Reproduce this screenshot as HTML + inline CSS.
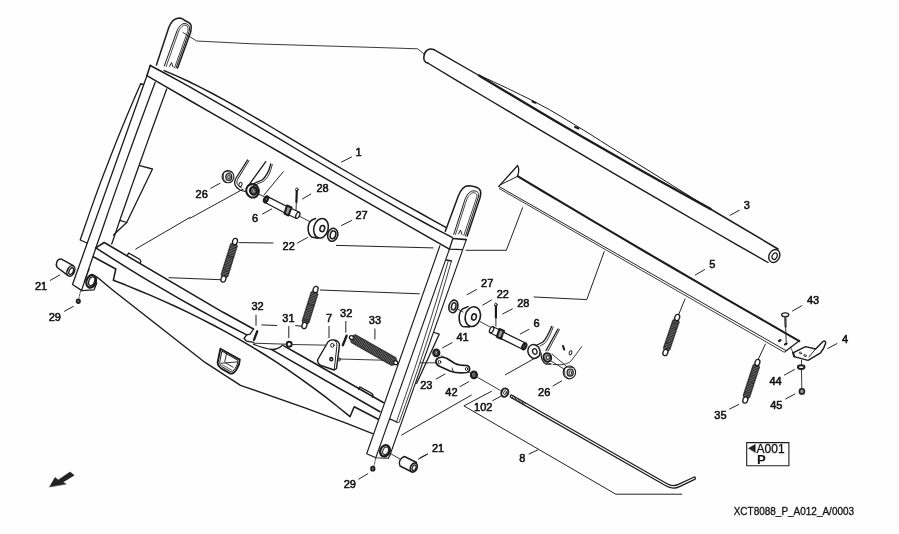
<!DOCTYPE html>
<html><head><meta charset="utf-8"><title>XCT8088_P_A012_A/0003</title>
<style>
html,body{margin:0;padding:0;background:#fff;}
svg{display:block;font-family:"Liberation Sans",sans-serif;}
text{filter:grayscale(1);}
</style></head><body>
<svg width="899" height="534" viewBox="0 0 899 534" stroke="#1c1c1c" stroke-linejoin="round" stroke-linecap="round" fill="none">
<rect x="0" y="0" width="899" height="534" fill="#fefefe" stroke="none"/>
<path d="M140.8,83.6 L134.6,97.8 L128.5,112.0 L122.6,126.3 L116.8,140.5 L111.2,154.7 L105.7,168.9 L100.3,183.1 L95.1,197.3 L90.0,211.6 L85.1,225.8 L80.2,240.0 L87.0,243.0" stroke-width="1.3" fill="none" />
<path d="M141.0,84.0 L143.5,84.5" stroke-width="1.3" fill="none" />
<path d="M146.9,75.8 L72.5,284.5 L81.9,290.6 L94.0,289.9 L96.8,283.0" stroke-width="1.3" fill="none" />
<path d="M155.2,82.2 L149.2,98.2 L143.3,114.3 L137.4,130.3 L131.6,146.3 L125.8,162.4 L120.1,178.4 L114.4,194.4 L108.8,210.4 L103.3,226.5 L97.7,242.5 L92.3,258.5 L86.8,274.6 L81.5,290.6" stroke-width="1.3" fill="none" />
<path d="M166.7,89.0 L161.5,103.1 L156.4,117.2 L151.3,131.3 L146.2,145.4 L141.2,159.5 L136.2,173.5 L131.2,187.6 L126.3,201.7 L121.4,215.8 L116.6,229.9 L111.7,244.0" stroke-width="1.3" fill="none" />
<path d="M139.7,165.7 L152.5,169.0 L126.7,222.5 L113.5,235.0" stroke-width="1.3" fill="none" />
<path d="M119.9,220.4 L126.7,222.5" stroke-width="1.3" fill="none" />
<path d="M156.4,65 L168.8,27.5 C171,21.5 175,18 179.4,17.9 C182,17.9 183.6,19.6 185.2,20.8 C189,22.2 191.6,24 191.2,27.2 L190.7,32 L177.6,68" stroke-width="1.4949999999999999" fill="none" />
<path d="M164.3,66 L176.6,32 C178.5,27 180.8,24 184,23.6 C187,23.4 189.4,25 189.5,27.8 L189.2,31.5 L176,68" stroke-width="1.0" fill="none" />
<path d="M166.2,66.5 L178.2,32.6 C180,28 182,25.7 184.3,25.3 C186.5,25.2 187.9,26.3 188,28.3 L187.8,31.2 L174.6,67.5" stroke-width="0.8" fill="none" />
<path d="M169.5,66.5 L171.5,62.5 L173.0,67.0" stroke-width="0.9720000000000001" fill="none" />
<path d="M183.0,32.5 L196.7,41.0 L250.0,43.7 L380.0,47.6 L417.6,48.8 L423.9,53.9" stroke-width="0.8640000000000001" fill="none" />
<ellipse cx="91.2" cy="281.3" rx="4.7" ry="6.5" transform="rotate(20 91.2 281.3)" stroke-width="2.21" fill="none"/>
<ellipse cx="91.7" cy="281.3" rx="2.8" ry="4.6" transform="rotate(20 91.7 281.3)" stroke-width="1.3" fill="none"/>
<path d="M89.3,269.0 L84.5,281.0" stroke-width="0.9720000000000001" fill="none" />
<path d="M164.2,70.6 L176.5,75.8 L188.7,81.5 L201.0,87.6 L213.3,94.0 L225.5,100.7 L237.8,107.5 L250.1,114.6 L262.3,121.7 L274.6,129.0 L286.9,136.3 L299.1,143.6 L311.4,150.9 L323.6,158.1 L335.9,165.3 L348.2,172.5 L360.4,179.5 L372.7,186.5 L385.0,193.5 L397.2,200.4 L409.5,207.2 L421.8,214.0 L434.0,220.8 L446.3,227.7" stroke-width="1.4300000000000002" fill="none" />
<path d="M150.3,65.5 L163.4,72.5 L176.6,79.6 L189.7,86.9 L202.8,94.3 L215.9,101.8 L229.1,109.4 L242.2,117.0 L255.3,124.7 L268.4,132.4 L281.6,140.2 L294.7,148.0 L307.8,155.8 L320.9,163.5 L334.1,171.3 L347.2,179.0 L360.3,186.6 L373.4,194.2 L386.6,201.7 L399.7,209.1 L412.8,216.4 L425.9,223.5 L439.1,230.6 L452.2,237.4" stroke-width="1.4300000000000002" fill="none" />
<path d="M146.9,75.6 L167.1,87.3 L187.2,99.0 L207.4,110.6 L227.6,122.2 L247.7,133.8 L267.9,145.4 L288.1,157.0 L308.2,168.6 L328.4,180.2 L348.6,191.7 L368.7,203.2 L388.9,214.7 L409.1,226.2 L429.2,237.7 L449.4,249.2" stroke-width="1.4949999999999999" fill="none" />
<path d="M150.3,65.2 L146.9,75.8" stroke-width="1.56" fill="none" />
<path d="M95.8,247.8 L104.2,242.5 L223.1,312.3 L253.5,329.0" stroke-width="1.56" fill="none" />
<path d="M253.5,329.0 L250.1,334.1 L246.7,334.9 L244.0,338.5 L246.7,341.2 L253.5,342.4" stroke-width="1.3" fill="none" />
<path d="M95.8,247.8 L112.6,258.6 L129.3,269.1 L146.1,279.3 L162.9,289.2 L179.6,298.9 L196.4,308.3 L213.2,317.4 L229.9,326.3 L246.7,334.9" stroke-width="1.56" fill="none" />
<path d="M93.3,256.7 L115.8,269.0 L113.3,280.3 L125.8,285.1 L138.2,290.2 L150.7,295.4 L163.1,300.9 L175.6,306.5 L188.0,312.4 L200.5,318.6 L213.0,325.0 L225.4,331.6 L237.9,338.6 L250.3,345.9 L262.8,353.5 L275.3,361.4 L287.7,369.7 L300.2,378.3 L312.6,387.3 L325.1,396.7 L337.5,406.5 L350.0,416.7 L354.2,406.7 L378.3,419.2" stroke-width="1.56" fill="none" />
<path d="M96.7,276.7 L112.6,290.0 L205.4,362.7 L240.5,385.3 L305.0,407.9 L346.7,423.3 L372.6,433.6" stroke-width="1.4300000000000002" fill="none" />
<path d="M127.4,255.4 L128.6,253 L139.6,259.2 C140.8,260.2 141,261.6 140.3,263" stroke-width="1.3" fill="none" />
<path d="M283.8,345.9 L300.0,355.0 L383.3,402.5" stroke-width="1.56" fill="none" />
<path d="M271.7,349.6 L380.0,411.7" stroke-width="1.56" fill="none" />
<path d="M253.5,344.2 C260,347 266,348.8 272,349.5 C277,349.6 280,347.5 282.8,345" stroke-width="1.3" fill="none" />
<path d="M254.2,343.2 L286.5,344.2" stroke-width="0.9" fill="none" />
<path d="M358.6,389.3 L359.7,386.9 L371.6,393.3 C373,394.3 373.2,395.8 372.3,397.2" stroke-width="1.3" fill="none" />
<path d="M220.4,348.7 L239.8,359.6 C239.8,362.5 238.5,366.5 236.5,369.4 C234.5,372.5 232.5,373.9 230.3,373.6 L221.9,368.9 C219,367 217.8,365.5 217.6,362.5 Z" stroke-width="1.885" fill="none" />
<path d="M222.2,351.3 L237.9,360.4 C237.8,363 236.8,366 235.2,368.4 C233.6,370.8 232,371.7 230.3,371.4 L222.8,367.2 C220.5,365.6 219.7,364.5 219.7,362.3 Z" stroke-width="1.0" fill="none" />
<path d="M226.6,353.3 L224.7,361.9" stroke-width="0.9" fill="none" />
<path d="M221.0,363.3 L237.0,361.9" stroke-width="0.9" fill="none" />
<path d="M225.8,363.0 L233.1,367.2" stroke-width="0.9" fill="none" />
<path d="M222.5,365.0 L231.5,370.0" stroke-width="0.7" fill="none" />
<path d="M439.9,245.8 L366.7,453.7 L375.8,457.7 L388.3,458.3 L390.0,455.0" stroke-width="1.15" fill="none" />
<path d="M449.4,249.2 L375.8,457.7" stroke-width="1.1" fill="none" />
<path d="M466.3,239.6 L390.0,455.0" stroke-width="1.1" fill="none" />
<path d="M448.0,261.7 L442.8,279.5 L437.4,297.3 L431.9,315.1 L426.2,332.9 L420.5,350.8 L414.7,368.6 L408.7,386.4 L402.6,404.2 L396.4,422.0" stroke-width="0.85" fill="none" />
<path d="M451.3,261.4 L446.1,279.3 L440.8,297.2 L435.4,315.1 L429.7,333.0 L423.9,350.9 L417.9,368.8 L411.8,386.7 L405.5,404.6 L399.0,422.5" stroke-width="0.85" fill="none" />
<path d="M446.4,260.0 L451.5,261.0" stroke-width="1.3" fill="none" />
<path d="M390.3,419.2 L397.8,422.5" stroke-width="1.3" fill="none" />
<path d="M452.8,238.5 L466.3,239.6" stroke-width="1.56" fill="none" />
<path d="M452.8,238.5 L449.4,249.2 L462.4,249.6" stroke-width="1.3" fill="none" />
<path d="M445.3,231.2 L458.2,196.3 C460.5,190 464,186 468.3,185.7 L472.8,186.2 C478,187 481.5,189.5 480.7,194 L480.1,197.5 L467.2,236" stroke-width="1.4949999999999999" fill="none" />
<path d="M453.7,234.5 L463.8,203.1 C465.5,197 468,192.6 471.5,191.2 C475,190.2 478.4,191.5 478.7,194.5 L478.4,197 L465.5,236" stroke-width="1.0" fill="none" />
<path d="M455.5,234.5 L465.4,203.6 C467,198 469.3,194.2 472,193 C474.8,192.2 476.8,193.3 477,195.6 L476.8,197 L463.8,235.5" stroke-width="0.8" fill="none" />
<path d="M458.5,234.0 L460.5,230.0 L462.0,234.5" stroke-width="0.9720000000000001" fill="none" />
<path d="M434.5,332.5 L439.2,334.2 L416.7,383.3" stroke-width="1.3" fill="none" />
<ellipse cx="385.0" cy="450.8" rx="4.6" ry="5.8" transform="rotate(25 385.0 450.8)" stroke-width="2.3400000000000003" fill="none"/>
<ellipse cx="385.6" cy="450.8" rx="2.6" ry="3.8" transform="rotate(25 385.6 450.8)" stroke-width="0.9720000000000001" fill="none"/>
<path d="M434,49.6 C429,47.5 424.5,51 423.9,56.4 C423.5,60 425,62.5 427.7,63" stroke-width="1.56" fill="none" />
<path d="M434.0,49.6 L479.0,75.5" stroke-width="1.4300000000000002" fill="none" />
<path d="M479.0,75.5 L504.7,91.0 L530.4,106.3 L556.1,121.5 L581.8,136.5 L607.6,151.3 L633.3,166.0 L659.0,180.5 L684.7,194.8 L710.4,208.9" stroke-width="2.3400000000000003" fill="none" />
<path d="M710.4,209.0 L778.0,249.0" stroke-width="1.56" fill="none" />
<path d="M427.7,63.0 L458.6,81.6 L489.6,100.0 L520.5,118.4 L551.4,136.7 L582.4,154.9 L613.3,173.1 L644.3,191.1 L675.2,209.1 L706.1,227.0 L737.1,244.8 L768.0,262.5" stroke-width="1.4300000000000002" fill="none" />
<path d="M479,75.2 C500,84.5 515,92 534.2,101.5 C553,111 571,122.5 590,134.1 C604,143 618,152 633.2,161 C660,177.5 685,193.5 710.4,209" stroke-width="1.0" fill="none" />
<path d="M532.5,101.5 L535.5,102.8" stroke-width="1.9500000000000002" fill="none" />
<path d="M575.0,127.0 L578.5,128.5" stroke-width="1.9500000000000002" fill="none" />
<ellipse cx="774.3" cy="256.0" rx="5.2" ry="6.8" transform="rotate(25 774.3 256.0)" stroke-width="1.4300000000000002" fill="none"/>
<ellipse cx="774.6" cy="256.2" rx="2.4" ry="3.4" transform="rotate(25 774.6 256.2)" stroke-width="1.3" fill="none"/>
<path d="M517.6,176.2 L543.2,191.5 L568.8,206.7 L594.4,221.8 L620.0,236.9 L645.6,252.0 L671.3,267.0 L696.9,281.9 L722.5,296.8 L748.1,311.6 L773.7,326.4 L799.3,341.1" stroke-width="2.08" fill="none" />
<path d="M498.8,186.4 L785.5,350.3" stroke-width="0.9720000000000001" fill="none" />
<path d="M499.3,188.6 L784.3,352.3" stroke-width="0.8640000000000001" fill="none" />
<path d="M498.8,186.4 L517.6,165.5 C519,168 519,172 517.6,176.3" stroke-width="1.3" fill="none" />
<path d="M501.0,184.5 L517.6,176.3" stroke-width="0.9720000000000001" fill="none" />
<path d="M799.3,340.8 L790.5,347.5 L785.2,351.5" stroke-width="1.3" fill="none" />
<ellipse cx="779.8" cy="340.6" rx="1.5" ry="0.8" transform="rotate(-30 779.8 340.6)" stroke-width="0.9720000000000001" fill="#333"/>
<ellipse cx="785.8" cy="344.0" rx="1.5" ry="0.8" transform="rotate(-30 785.8 344.0)" stroke-width="0.9720000000000001" fill="#333"/>
<path d="M522.6,207.7 L506.3,250.3 L466.0,250.3" stroke-width="0.9720000000000001" fill="none" />
<path d="M604.2,251.6 L586.8,299.6 L534.0,297.0" stroke-width="0.9720000000000001" fill="none" />
<path d="M336.4,245.4 L433.0,247.9" stroke-width="0.9720000000000001" fill="none" />
<path d="M189.8,217.5 L135.8,249.0" stroke-width="0.9720000000000001" fill="none" />
<path d="M243.3,189.0 L190.0,218.3" stroke-width="0.9720000000000001" fill="none" />
<path d="M283.3,171.7 L264.0,195.0" stroke-width="0.9720000000000001" fill="none" />
<path d="M239.0,242.6 L273.0,243.0" stroke-width="0.9720000000000001" fill="none" />
<path d="M169.0,277.7 L220.4,279.7" stroke-width="0.9720000000000001" fill="none" />
<path d="M320.3,290.0 L419.3,293.8" stroke-width="0.9720000000000001" fill="none" />
<path d="M292.7,344.5 L329.0,345.2" stroke-width="0.8640000000000001" fill="none" />
<path d="M339.0,359.0 L386.7,360.3" stroke-width="0.8640000000000001" fill="none" />
<path d="M420.0,362.8 L436.3,362.8" stroke-width="0.8640000000000001" fill="none" />
<path d="M581.8,346.5 L571.5,360.5 C569,363.3 565,364.5 560,364.8 L553,364.5" stroke-width="0.85" fill="none" />
<path d="M505.3,374.8 L537.9,356.5" stroke-width="0.9720000000000001" fill="none" />
<path d="M471.4,395.1 L401.7,435.0" stroke-width="0.9720000000000001" fill="none" />
<path d="M491.5,391.3 L463.9,405.9 L615.8,494.2 L681.7,494.2" stroke-width="0.9720000000000001" fill="none" />
<path d="M477.7,377.4 L500.3,390.4" stroke-width="0.8640000000000001" fill="none" />
<path d="M441.0,355.5 L470.5,372.8" stroke-width="0.756" fill="none" />
<path d="M232.5,242.4 L230.3,244.0 L220.9,274.3 L221.8,276.9 L225.9,278.1 L228.1,276.5 L237.5,246.2 L236.6,243.6 Z" fill="#262626" stroke="#262626" stroke-width="0.4"/>
<line x1="234.2" y1="244.3" x2="224.2" y2="276.2" stroke="#fff" stroke-opacity="0.5" stroke-width="5.8" stroke-dasharray="0.5 1.1" stroke-linecap="butt"/>
<ellipse cx="235.0" cy="241.5" rx="3.2" ry="2.4" transform="rotate(107.25417954514849 235.0 241.5)" stroke-width="1.3" fill="#fff"/>
<ellipse cx="223.4" cy="279.0" rx="3.2" ry="2.4" transform="rotate(107.25417954514849 223.4 279.0)" stroke-width="1.3" fill="#fff"/>
<path d="M313.1,290.4 L310.9,292.0 L301.9,320.8 L302.8,323.4 L306.9,324.6 L309.1,323.0 L318.1,294.2 L317.2,291.6 Z" fill="#262626" stroke="#262626" stroke-width="0.4"/>
<line x1="314.8" y1="292.3" x2="305.2" y2="322.7" stroke="#fff" stroke-opacity="0.5" stroke-width="5.8" stroke-dasharray="0.5 1.1" stroke-linecap="butt"/>
<ellipse cx="315.6" cy="289.5" rx="3.2" ry="2.4" transform="rotate(107.33810914236143 315.6 289.5)" stroke-width="1.3" fill="#fff"/>
<ellipse cx="304.4" cy="325.5" rx="3.2" ry="2.4" transform="rotate(107.33810914236143 304.4 325.5)" stroke-width="1.3" fill="#fff"/>
<path d="M350.2,339.9 L351.1,342.8 L391.5,365.7 L394.4,365.0 L397.0,360.4 L396.1,357.5 L355.7,334.6 L352.8,335.3 Z" fill="#262626" stroke="#262626" stroke-width="0.4"/>
<line x1="352.6" y1="338.2" x2="394.6" y2="362.1" stroke="#fff" stroke-opacity="0.5" stroke-width="7.6" stroke-dasharray="0.5 1.1" stroke-linecap="butt"/>
<ellipse cx="351.5" cy="337.6" rx="2.2" ry="1.8" transform="rotate(29.580238705534747 351.5 337.6)" stroke-width="1.3" fill="#fff"/>
<ellipse cx="395.7" cy="362.7" rx="2.2" ry="1.8" transform="rotate(29.580238705534747 395.7 362.7)" stroke-width="1.3" fill="#fff"/>
<path d="M674.8,318.3 L672.6,319.9 L663.2,347.8 L664.0,350.4 L667.8,351.7 L670.0,350.1 L679.4,322.2 L678.6,319.6 Z" fill="#262626" stroke="#262626" stroke-width="0.4"/>
<line x1="676.2" y1="320.2" x2="666.4" y2="349.8" stroke="#fff" stroke-opacity="0.5" stroke-width="5.4" stroke-dasharray="0.5 1.1" stroke-linecap="butt"/>
<ellipse cx="677.2" cy="317.5" rx="3.2" ry="2.4" transform="rotate(108.52084947747107 677.2 317.5)" stroke-width="1.3" fill="#fff"/>
<ellipse cx="665.4" cy="352.5" rx="3.2" ry="2.4" transform="rotate(108.52084947747107 665.4 352.5)" stroke-width="1.3" fill="#fff"/>
<path d="M755.0,363.4 L752.8,365.0 L743.0,395.3 L743.9,397.9 L747.7,399.1 L749.9,397.5 L759.7,367.2 L758.8,364.6 Z" fill="#262626" stroke="#262626" stroke-width="0.4"/>
<line x1="756.5" y1="365.3" x2="746.2" y2="397.2" stroke="#fff" stroke-opacity="0.5" stroke-width="5.4" stroke-dasharray="0.5 1.1" stroke-linecap="butt"/>
<ellipse cx="757.4" cy="362.5" rx="3.2" ry="2.4" transform="rotate(107.86687897218367 757.4 362.5)" stroke-width="1.3" fill="#fff"/>
<ellipse cx="745.3" cy="400.0" rx="3.2" ry="2.4" transform="rotate(107.86687897218367 745.3 400.0)" stroke-width="1.3" fill="#fff"/>
<path d="M685.0,299.0 L678.9,314.0" stroke-width="0.9720000000000001" fill="none" />
<path d="M765.4,344.0 L758.4,359.0" stroke-width="0.9720000000000001" fill="none" />
<ellipse cx="228.0" cy="176.7" rx="5.9" ry="6.1" transform="rotate(0 228.0 176.7)" stroke-width="1.15" fill="none"/>
<path d="M223.3,173.5 L225.8,171.5 L231.5,172.3" stroke-width="0.8" fill="none" />
<path d="M223.3,173.5 L223.6,179.5 L226.5,182.2" stroke-width="0.8" fill="none" />
<ellipse cx="228.8" cy="177.0" rx="3.0" ry="3.5" transform="rotate(0 228.8 177.0)" stroke-width="1.2" fill="#bbb"/>
<ellipse cx="229.0" cy="177.2" rx="1.3" ry="1.8" transform="rotate(0 229.0 177.2)" stroke-width="0.8" fill="#eee"/>
<path d="M247.5,160 L235.5,179 C233.5,183 235,187 240,190 L245,191.5" stroke-width="1.3" fill="none" />
<path d="M249,160.5 L237.5,179.5 C236,183 237.5,186 241.5,188 " stroke-width="0.9720000000000001" fill="none" />
<ellipse cx="240.5" cy="184.5" rx="1.5" ry="2.2" transform="rotate(20 240.5 184.5)" stroke-width="0.9720000000000001" fill="none"/>
<path d="M265.8,161.7 L248.3,185.8" stroke-width="1.3" fill="none" />
<path d="M270.8,164 C269,171 267,176 262,180 L250.5,185" stroke-width="1.3" fill="none" />
<path d="M272.3,164.5 C270.5,172 268.5,177.5 263,181.5 L252,186.5" stroke-width="0.8640000000000001" fill="none" />
<ellipse cx="252.5" cy="190.8" rx="6.2" ry="6.8" transform="rotate(-20 252.5 190.8)" stroke-width="2.08" fill="none"/>
<ellipse cx="253.5" cy="190.8" rx="3.4" ry="3.8" transform="rotate(-20 253.5 190.8)" stroke-width="2.3400000000000003" fill="#888"/>
<ellipse cx="253.8" cy="190.8" rx="1.2" ry="1.5" transform="rotate(-20 253.8 190.8)" stroke-width="0.8" fill="#eee"/>
<path d="M258.0,194.0 L264.0,196.5" stroke-width="0.8640000000000001" fill="none" />
<path d="M266.7,196.2 L288,207 L286,213.5 L265,202.5 Z" stroke-width="1.3" fill="#fff" />
<ellipse cx="266.0" cy="199.3" rx="1.8" ry="3.2" transform="rotate(25 266.0 199.3)" stroke-width="2.08" fill="none"/>
<path d="M287,205.5 L291.5,207.5 L288.5,215.5 L284.5,213.5 Z" stroke-width="2.08" fill="#999" />
<path d="M291.5,208.5 L299,212 L296.5,218.5 L289,215 Z" stroke-width="1.3" fill="#fff" />
<ellipse cx="297.8" cy="215.3" rx="1.8" ry="3.3" transform="rotate(25 297.8 215.3)" stroke-width="1.3" fill="#fff"/>
<path d="M262.5,214.0 L271.7,209.0" stroke-width="0.9720000000000001" fill="none" />
<ellipse cx="296.9" cy="189.6" rx="1.3" ry="1.7" transform="rotate(0 296.9 189.6)" stroke-width="0.9" fill="none"/>
<path d="M296.8,191.0 L296.4,202.0" stroke-width="2.2" fill="none" />
<path d="M296.4,202.0 L296.0,210.5" stroke-width="0.9" fill="none" />
<path d="M302.5,199.0 L310.8,194.0" stroke-width="0.9720000000000001" fill="none" />
<path d="M299.0,216.0 L310.0,221.7" stroke-width="0.8640000000000001" fill="none" />
<path d="M315.5,218.5 L311.5,220.3 C307,223.6 307,233.6 311.5,236.9 L318,238.2" stroke-width="1.56" fill="none" />
<ellipse cx="321.0" cy="228.2" rx="7.2" ry="9.9" transform="rotate(15 321.0 228.2)" stroke-width="1.56" fill="#fff"/>
<ellipse cx="322.3" cy="228.6" rx="2.3" ry="3.1" transform="rotate(15 322.3 228.6)" stroke-width="1.56" fill="none"/>
<path d="M297.5,243.0 L307.5,237.5" stroke-width="0.9720000000000001" fill="none" />
<ellipse cx="332.7" cy="234.8" rx="5.0" ry="6.6" transform="rotate(15 332.7 234.8)" stroke-width="1.56" fill="none"/>
<ellipse cx="333.0" cy="234.8" rx="2.7" ry="4.0" transform="rotate(15 333.0 234.8)" stroke-width="1.56" fill="none"/>
<path d="M341.5,225.5 L351.5,220.5" stroke-width="0.9720000000000001" fill="none" />
<path d="M341.5,162.0 L351.5,157.0" stroke-width="0.9720000000000001" fill="none" />
<path d="M210.8,188.3 L220.0,183.3" stroke-width="0.9720000000000001" fill="none" />
<ellipse cx="453.4" cy="306.4" rx="4.4" ry="6.4" transform="rotate(15 453.4 306.4)" stroke-width="1.56" fill="none"/>
<ellipse cx="453.7" cy="306.4" rx="2.2" ry="3.6" transform="rotate(15 453.7 306.4)" stroke-width="1.4300000000000002" fill="none"/>
<path d="M467.2,294.6 L476.4,289.6" stroke-width="0.9720000000000001" fill="none" />
<path d="M458.0,309.0 L463.0,312.0" stroke-width="0.8640000000000001" fill="none" />
<path d="M468,306.6 L462.5,309 C458,312.5 458,323 462.5,326.5 L469.5,327" stroke-width="1.56" fill="none" />
<ellipse cx="472.8" cy="316.6" rx="7.5" ry="10.0" transform="rotate(15 472.8 316.6)" stroke-width="1.56" fill="#fff"/>
<ellipse cx="474.0" cy="317.0" rx="2.3" ry="3.1" transform="rotate(15 474.0 317.0)" stroke-width="1.56" fill="none"/>
<path d="M482.7,305.1 L491.5,300.0" stroke-width="0.9720000000000001" fill="none" />
<path d="M480.0,321.5 L491.0,327.5" stroke-width="0.8640000000000001" fill="none" />
<ellipse cx="495.9" cy="304.8" rx="1.3" ry="1.7" transform="rotate(0 495.9 304.8)" stroke-width="0.9" fill="none"/>
<path d="M495.9,306.0 L495.9,317.5" stroke-width="2.2" fill="none" />
<path d="M495.9,317.5 L495.9,326.0" stroke-width="0.9" fill="none" />
<path d="M502.8,313.9 L512.3,308.9" stroke-width="0.9720000000000001" fill="none" />
<path d="M492.5,326.5 L500,330 L497.5,336.5 L490.5,333 Z" stroke-width="1.3" fill="#fff" />
<ellipse cx="491.6" cy="329.8" rx="1.8" ry="3.3" transform="rotate(25 491.6 329.8)" stroke-width="1.3" fill="#fff"/>
<path d="M499.5,329 L504,331 L501,338.8 L496.8,336.8 Z" stroke-width="2.08" fill="#999" />
<path d="M503.5,332.2 L525.5,343 L523,349.5 L501.5,338.8 Z" stroke-width="1.3" fill="#fff" />
<ellipse cx="524.3" cy="346.3" rx="1.8" ry="3.2" transform="rotate(25 524.3 346.3)" stroke-width="2.08" fill="none"/>
<path d="M520.3,334.0 L529.0,329.4" stroke-width="0.9720000000000001" fill="none" />
<path d="M551.7,326.4 C549,333 547,338 543,342 L536,345.5" stroke-width="1.3" fill="none" />
<path d="M553.2,327 C550.5,334 548.5,339.5 544.5,343.5 L540,346" stroke-width="0.8640000000000001" fill="none" />
<ellipse cx="534.0" cy="351.5" rx="6.0" ry="7.0" transform="rotate(-20 534.0 351.5)" stroke-width="1.4949999999999999" fill="none"/>
<ellipse cx="534.8" cy="351.5" rx="2.2" ry="2.8" transform="rotate(-20 534.8 351.5)" stroke-width="1.3" fill="none"/>
<path d="M558,329 L546,350.5" stroke-width="1.3" fill="none" />
<path d="M559.5,329.5 L548,351" stroke-width="0.8640000000000001" fill="none" />
<path d="M541,353 C541,358 542,362 546,364 L551,364" stroke-width="1.3" fill="none" />
<ellipse cx="547.3" cy="357.5" rx="3.8" ry="4.4" transform="rotate(-20 547.3 357.5)" stroke-width="1.9500000000000002" fill="#aaa"/>
<ellipse cx="547.8" cy="357.5" rx="1.5" ry="1.9" transform="rotate(-20 547.8 357.5)" stroke-width="0.9720000000000001" fill="#fff"/>
<path d="M551.0,361.0 L564.0,369.0" stroke-width="0.8640000000000001" fill="none" />
<path d="M552.0,354.0 L566.0,366.0" stroke-width="0.8640000000000001" fill="none" />
<path d="M563.0,346.0 L564.2,349.5" stroke-width="2.08" fill="none" />
<ellipse cx="570.5" cy="352.8" rx="1.3" ry="2.2" transform="rotate(20 570.5 352.8)" stroke-width="0.9720000000000001" fill="none"/>
<ellipse cx="569.4" cy="372.4" rx="6.2" ry="6.4" transform="rotate(0 569.4 372.4)" stroke-width="1.15" fill="none"/>
<path d="M564.5,369.0 L567.0,367.0 L573.0,367.8" stroke-width="0.8" fill="none" />
<path d="M564.5,369.0 L564.8,375.3 L567.8,378.0" stroke-width="0.8" fill="none" />
<ellipse cx="570.2" cy="372.6" rx="3.1" ry="3.6" transform="rotate(0 570.2 372.6)" stroke-width="1.2" fill="#bbb"/>
<ellipse cx="570.4" cy="372.8" rx="1.3" ry="1.8" transform="rotate(0 570.4 372.8)" stroke-width="0.8" fill="#eee"/>
<path d="M553.0,385.9 L561.7,380.9" stroke-width="0.9720000000000001" fill="none" />
<ellipse cx="436.3" cy="352.8" rx="3.0" ry="3.3" transform="rotate(0 436.3 352.8)" stroke-width="2.21" fill="#8a8a8a"/>
<ellipse cx="436.6" cy="352.8" rx="1.0" ry="1.3" transform="rotate(0 436.6 352.8)" stroke-width="0.8" fill="#ddd"/>
<path d="M442.6,347.8 L452.1,342.7" stroke-width="0.9720000000000001" fill="none" />
<path d="M437.5,358.5 C441,356.5 444,357 447,358.5 L455,363.5 C459,365.5 463,365.5 467,365.5 C470.5,366.5 470.5,371.5 467,372.5 C460,373.5 455,373 450,371 L440,366.5 C436,365 434.5,361 437.5,358.5 Z" stroke-width="1.6900000000000002" fill="#fff" />
<ellipse cx="439.5" cy="362.0" rx="1.3" ry="1.6" transform="rotate(0 439.5 362.0)" stroke-width="0.9720000000000001" fill="none"/>
<ellipse cx="466.5" cy="369.0" rx="1.2" ry="1.5" transform="rotate(0 466.5 369.0)" stroke-width="0.9720000000000001" fill="none"/>
<path d="M452.0,368.0 L453.5,372.0" stroke-width="0.8640000000000001" fill="none" />
<path d="M436.3,379.0 L445.0,374.0" stroke-width="0.9720000000000001" fill="none" />
<ellipse cx="473.9" cy="374.8" rx="3.0" ry="3.3" transform="rotate(0 473.9 374.8)" stroke-width="2.21" fill="#8a8a8a"/>
<ellipse cx="474.2" cy="374.8" rx="1.0" ry="1.3" transform="rotate(0 474.2 374.8)" stroke-width="0.8" fill="#ddd"/>
<path d="M460.0,386.6 L468.9,381.6" stroke-width="0.9720000000000001" fill="none" />
<ellipse cx="504.8" cy="392.6" rx="3.4" ry="4.3" transform="rotate(20 504.8 392.6)" stroke-width="1.9500000000000002" fill="none"/>
<ellipse cx="505.0" cy="392.6" rx="1.3" ry="2.0" transform="rotate(20 505.0 392.6)" stroke-width="0.8640000000000001" fill="none"/>
<path d="M492.7,400.6 L500.8,396.3" stroke-width="0.9720000000000001" fill="none" />
<path d="M511.5,396.3 L666,484.5 C670,487 675,487.5 679,485.5 L694.2,478.3" stroke-width="3.7" fill="none" stroke-linecap="round"/>
<path d="M511.5,396.3 L666,484.5 C670,487 675,487.5 679,485.5 L694.2,478.3" stroke-width="1.25" fill="none" stroke="#fff" stroke-linecap="round"/>
<path d="M512.3,396.8 L525.3,404.2" stroke-width="3.3" fill="none" stroke="#3a3a3a" stroke-dasharray="1 0.6" stroke-linecap="butt"/>
<path d="M529.1,454.0 L537.9,449.8" stroke-width="0.9720000000000001" fill="none" />
<path d="M257.2,331.3 L254.0,339.8" stroke-width="2.3400000000000003" fill="none" />
<path d="M256.0,315.3 L256.0,325.3" stroke-width="0.9720000000000001" fill="none" />
<path d="M261.8,324.9 L276.8,325.5" stroke-width="0.9720000000000001" fill="none" />
<path d="M288.8,326.5 L288.8,337.8" stroke-width="0.9720000000000001" fill="none" />
<path d="M295.5,325.6 L302.0,326.2" stroke-width="0.9720000000000001" fill="none" />
<ellipse cx="289.2" cy="344.2" rx="2.5" ry="2.5" transform="rotate(0 289.2 344.2)" stroke-width="1.9500000000000002" fill="none"/>
<path d="M326.5,344.5 C328,341 331,339.5 334,340 C338,340.5 340,343 339.3,346.5 L336.5,368.5 L334.2,370 L321.7,365.8 C318,364 317,362 317.8,359.5 Z" stroke-width="1.4300000000000002" fill="#fff" />
<path d="M334,340 C336.5,341.5 337.2,343.5 336.8,346.5 L334.2,370" stroke-width="0.9720000000000001" fill="none" />
<ellipse cx="332.3" cy="345.3" rx="1.7" ry="2.0" transform="rotate(0 332.3 345.3)" stroke-width="0.9720000000000001" fill="none"/>
<ellipse cx="331.3" cy="359.2" rx="1.4" ry="1.6" transform="rotate(0 331.3 359.2)" stroke-width="1.56" fill="none"/>
<ellipse cx="339.3" cy="359.5" rx="1.2" ry="1.6" transform="rotate(0 339.3 359.5)" stroke-width="0.8640000000000001" fill="none"/>
<path d="M329.0,326.4 L329.0,337.7" stroke-width="0.9720000000000001" fill="none" />
<path d="M346.6,335.7 L342.8,345.2" stroke-width="2.3400000000000003" fill="none" />
<path d="M345.8,321.4 L345.8,332.2" stroke-width="0.9720000000000001" fill="none" />
<path d="M374.9,328.9 L374.9,339.0" stroke-width="0.9720000000000001" fill="none" />
<path d="M61,258.9 L73.3,265.7 L67.8,275.4 L57,267.3 C55.2,263.5 57.2,259 61,258.9 Z" stroke-width="1.4300000000000002" fill="#fff" />
<ellipse cx="70.9" cy="270.9" rx="3.6" ry="5.5" transform="rotate(25 70.9 270.9)" stroke-width="1.56" fill="#fff"/>
<ellipse cx="71.2" cy="271.1" rx="2.0" ry="3.5" transform="rotate(25 71.2 271.1)" stroke-width="1.3" fill="none"/>
<path d="M50.2,280.4 L59.7,275.0" stroke-width="0.9720000000000001" fill="none" />
<ellipse cx="78.3" cy="301.3" rx="1.7" ry="1.9" transform="rotate(0 78.3 301.3)" stroke-width="1.6900000000000002" fill="#777"/>
<path d="M80.5,291.0 L79.0,298.0" stroke-width="0.756" fill="none" stroke-dasharray="2 1.2"/>
<path d="M64.5,311.3 L73.3,306.4" stroke-width="0.9720000000000001" fill="none" />
<path d="M404.5,456.5 L416.5,462.5 L412,472 L400,466 C398,462.5 400.5,457.5 404.5,456.5 Z" stroke-width="1.4300000000000002" fill="#fff" />
<ellipse cx="413.8" cy="467.5" rx="3.3" ry="4.7" transform="rotate(25 413.8 467.5)" stroke-width="1.56" fill="#fff"/>
<ellipse cx="414.1" cy="467.7" rx="1.8" ry="2.9" transform="rotate(25 414.1 467.7)" stroke-width="1.3" fill="none"/>
<path d="M390.0,453.3 L400.0,459.0" stroke-width="0.8640000000000001" fill="none" />
<path d="M418.3,459.2 L427.5,454.2" stroke-width="0.9720000000000001" fill="none" />
<path d="M420.0,457.8 L427.5,454.0" stroke-width="0.9720000000000001" fill="none" />
<ellipse cx="372.8" cy="468.7" rx="1.8" ry="2.0" transform="rotate(0 372.8 468.7)" stroke-width="1.6900000000000002" fill="#777"/>
<path d="M375.6,458.5 L373.9,466.4" stroke-width="0.756" fill="none" stroke-dasharray="2 1.2"/>
<path d="M358.8,479.1 L367.8,473.7" stroke-width="0.9720000000000001" fill="none" />
<ellipse cx="785.2" cy="314.8" rx="3.6" ry="1.9" transform="rotate(0 785.2 314.8)" stroke-width="1.3" fill="#fff"/>
<path d="M785.3,317.0 L785.6,326.5" stroke-width="2.3" fill="none" stroke="#444"/>
<path d="M785.6,326.5 L786.3,344.0" stroke-width="0.9" fill="none" />
<path d="M792.5,311.0 L801.8,305.7" stroke-width="0.9720000000000001" fill="none" />
<path d="M793,352.8 L805.5,346.6 L815.6,349 L823,341.5 C824.5,340.5 826,341.5 825.6,343.3 C824.5,347 823,350 820.6,352.8 L808,360.4 L794.3,356.6 Z" stroke-width="1.4300000000000002" fill="#fff" />
<path d="M815.6,349.0 L808.8,357.0" stroke-width="0.9720000000000001" fill="none" />
<path d="M794.3,356.6 L793.0,352.8" stroke-width="1.8199999999999998" fill="none" />
<ellipse cx="800.5" cy="353.0" rx="1.3" ry="0.8" transform="rotate(25 800.5 353.0)" stroke-width="0.8640000000000001" fill="none"/>
<ellipse cx="805.0" cy="355.5" rx="1.3" ry="0.8" transform="rotate(25 805.0 355.5)" stroke-width="0.8640000000000001" fill="none"/>
<path d="M790.5,347.0 L793.0,352.5" stroke-width="0.756" fill="none" />
<path d="M827.6,348.6 L836.9,343.6" stroke-width="0.9720000000000001" fill="none" />
<ellipse cx="801.2" cy="367.1" rx="3.3" ry="1.9" transform="rotate(0 801.2 367.1)" stroke-width="1.9500000000000002" fill="none"/>
<path d="M801.5,360.0 L801.5,364.5" stroke-width="0.8640000000000001" fill="none" />
<path d="M801.5,369.5 L801.8,388.0" stroke-width="0.8640000000000001" fill="none" />
<path d="M784.4,375.1 L794.4,369.6" stroke-width="0.9720000000000001" fill="none" />
<ellipse cx="801.9" cy="391.4" rx="2.5" ry="2.6" transform="rotate(0 801.9 391.4)" stroke-width="1.56" fill="#999"/>
<path d="M785.6,399.0 L794.9,394.0" stroke-width="0.9720000000000001" fill="none" />
<path d="M729.7,409.0 L738.7,404.5" stroke-width="0.9720000000000001" fill="none" />
<path d="M695.2,275.0 L704.7,269.6" stroke-width="0.9720000000000001" fill="none" />
<path d="M730.0,215.3 L739.3,210.3" stroke-width="0.9720000000000001" fill="none" />
<path d="M49.7,486.7 L55,477.5 L58.3,479.9 L70,472 L74.2,475.3 L62.8,482.2 L65.8,483.9 Z" stroke-width="0.54" fill="#222" />
<rect x="746.7" y="442.6" width="42.2" height="23.1" stroke-width="1.1" fill="none"/>
<path d="M748.4,448.3 L755.4,444.2 L755.4,452.6 Z" stroke-width="0.324" fill="#222" />
<text x="756.6" y="452.9" font-size="12.3" stroke="#111" stroke-width="0.3" fill="#111" textLength="28" lengthAdjust="spacingAndGlyphs">A001</text>
<text x="757" y="464.3" font-size="13.2" font-weight="bold" stroke="none" fill="#111">P</text>
<text x="733.7" y="515" font-size="10.2" stroke="#111" stroke-width="0.3" fill="#111" textLength="120.4" lengthAdjust="spacingAndGlyphs">XCT8088_P_A012_A/0003</text>
<text x="358.5" y="156.0" font-size="11" font-weight="normal" text-anchor="middle" stroke="#111" stroke-width="0.55" fill="#111">1</text>
<text x="746.8" y="209.3" font-size="11" font-weight="normal" text-anchor="middle" stroke="#111" stroke-width="0.55" fill="#111">3</text>
<text x="845.1" y="342.8" font-size="11" font-weight="normal" text-anchor="middle" stroke="#111" stroke-width="0.55" fill="#111">4</text>
<text x="712.2" y="267.8" font-size="11" font-weight="normal" text-anchor="middle" stroke="#111" stroke-width="0.55" fill="#111">5</text>
<text x="255.0" y="221.5" font-size="11" font-weight="normal" text-anchor="middle" stroke="#111" stroke-width="0.55" fill="#111">6</text>
<text x="536.6" y="326.7" font-size="11" font-weight="normal" text-anchor="middle" stroke="#111" stroke-width="0.55" fill="#111">6</text>
<text x="329.0" y="321.7" font-size="11" font-weight="normal" text-anchor="middle" stroke="#111" stroke-width="0.55" fill="#111">7</text>
<text x="522.3" y="461.8" font-size="11" font-weight="normal" text-anchor="middle" stroke="#111" stroke-width="0.55" fill="#111">8</text>
<text x="41.0" y="289.8" font-size="11" font-weight="normal" text-anchor="middle" stroke="#111" stroke-width="0.55" fill="#111">21</text>
<text x="438.0" y="452.2" font-size="11" font-weight="normal" text-anchor="middle" stroke="#111" stroke-width="0.55" fill="#111">21</text>
<text x="288.7" y="250.4" font-size="11" font-weight="normal" text-anchor="middle" stroke="#111" stroke-width="0.55" fill="#111">22</text>
<text x="502.8" y="297.8" font-size="11" font-weight="normal" text-anchor="middle" stroke="#111" stroke-width="0.55" fill="#111">22</text>
<text x="426.3" y="389.4" font-size="11" font-weight="normal" text-anchor="middle" stroke="#111" stroke-width="0.55" fill="#111">23</text>
<text x="201.7" y="198.2" font-size="11" font-weight="normal" text-anchor="middle" stroke="#111" stroke-width="0.55" fill="#111">26</text>
<text x="544.2" y="395.6" font-size="11" font-weight="normal" text-anchor="middle" stroke="#111" stroke-width="0.55" fill="#111">26</text>
<text x="361.5" y="219.3" font-size="11" font-weight="normal" text-anchor="middle" stroke="#111" stroke-width="0.55" fill="#111">27</text>
<text x="487.2" y="286.5" font-size="11" font-weight="normal" text-anchor="middle" stroke="#111" stroke-width="0.55" fill="#111">27</text>
<text x="322.6" y="192.0" font-size="11" font-weight="normal" text-anchor="middle" stroke="#111" stroke-width="0.55" fill="#111">28</text>
<text x="523.3" y="306.6" font-size="11" font-weight="normal" text-anchor="middle" stroke="#111" stroke-width="0.55" fill="#111">28</text>
<text x="54.8" y="320.7" font-size="11" font-weight="normal" text-anchor="middle" stroke="#111" stroke-width="0.55" fill="#111">29</text>
<text x="349.8" y="488.0" font-size="11" font-weight="normal" text-anchor="middle" stroke="#111" stroke-width="0.55" fill="#111">29</text>
<text x="288.4" y="321.9" font-size="11" font-weight="normal" text-anchor="middle" stroke="#111" stroke-width="0.55" fill="#111">31</text>
<text x="257.6" y="310.4" font-size="11" font-weight="normal" text-anchor="middle" stroke="#111" stroke-width="0.55" fill="#111">32</text>
<text x="346.2" y="316.6" font-size="11" font-weight="normal" text-anchor="middle" stroke="#111" stroke-width="0.55" fill="#111">32</text>
<text x="374.9" y="324.2" font-size="11" font-weight="normal" text-anchor="middle" stroke="#111" stroke-width="0.55" fill="#111">33</text>
<text x="720.4" y="418.8" font-size="11" font-weight="normal" text-anchor="middle" stroke="#111" stroke-width="0.55" fill="#111">35</text>
<text x="462.6" y="340.5" font-size="11" font-weight="normal" text-anchor="middle" stroke="#111" stroke-width="0.55" fill="#111">41</text>
<text x="451.4" y="395.6" font-size="11" font-weight="normal" text-anchor="middle" stroke="#111" stroke-width="0.55" fill="#111">42</text>
<text x="813.0" y="304.2" font-size="11" font-weight="normal" text-anchor="middle" stroke="#111" stroke-width="0.55" fill="#111">43</text>
<text x="775.5" y="385.0" font-size="11" font-weight="normal" text-anchor="middle" stroke="#111" stroke-width="0.55" fill="#111">44</text>
<text x="776.3" y="408.7" font-size="11" font-weight="normal" text-anchor="middle" stroke="#111" stroke-width="0.55" fill="#111">45</text>
<text x="483.2" y="411.1" font-size="11" font-weight="normal" text-anchor="middle" stroke="#111" stroke-width="0.55" fill="#111">102</text>
</svg>
</body></html>
